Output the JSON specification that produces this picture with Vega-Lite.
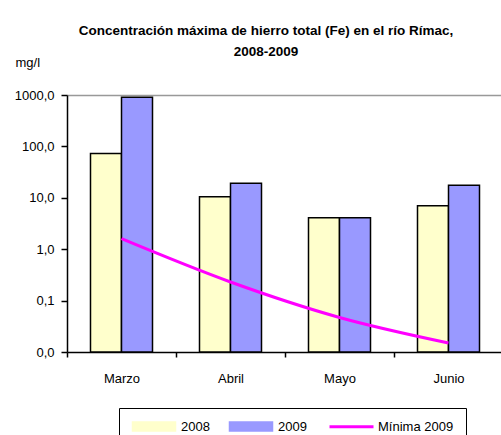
{
  "$schema": "https://vega.github.io/schema/vega-lite/v6.json",
  "width": 436,
  "height": 257,
  "autosize": {"type": "none"},
  "padding": {"left": 67, "top": 95, "right": 0, "bottom": 83},
  "background": "white",
  "config": {
    "font": "Liberation Sans",
    "view": {"stroke": null}
  },
  "title": {
    "text": ["Concentración máxima de hierro total (Fe) en el río Rímac,", "2008-2009"],
    "fontSize": 13.5,
    "fontWeight": "bold",
    "color": "black",
    "anchor": "middle",
    "frame": "group",
    "dx": -19,
    "offset": -2,
    "lineHeight": 21
  },
  "datasets": {
    "barras": [
      {"mes": "Marzo", "serie": "2008", "valor": 73},
      {"mes": "Marzo", "serie": "2009", "valor": 900},
      {"mes": "Abril", "serie": "2008", "valor": 10.5},
      {"mes": "Abril", "serie": "2009", "valor": 19.2},
      {"mes": "Mayo", "serie": "2008", "valor": 4.1},
      {"mes": "Mayo", "serie": "2009", "valor": 4.1},
      {"mes": "Junio", "serie": "2008", "valor": 7.0},
      {"mes": "Junio", "serie": "2009", "valor": 17.5}
    ],
    "minima": [
      {"mes": "Marzo", "serie": "Mínima 2009", "valor": 1.6},
      {"mes": "Abril", "serie": "Mínima 2009", "valor": 0.23},
      {"mes": "Mayo", "serie": "Mínima 2009", "valor": 0.047},
      {"mes": "Junio", "serie": "Mínima 2009", "valor": 0.015}
    ]
  },
  "encoding": {
    "x": {
      "field": "mes",
      "type": "nominal",
      "sort": ["Marzo", "Abril", "Mayo", "Junio"],
      "scale": {"paddingInner": 0, "paddingOuter": 0},
      "axis": {
        "title": null,
        "labelAngle": 0,
        "labelFontSize": 13,
        "labelColor": "black",
        "labelPadding": 15,
        "tickBand": "extent",
        "tickSize": 5,
        "tickColor": "black",
        "tickWidth": 1.5,
        "domainColor": "black",
        "domainWidth": 1.5,
        "grid": false
      }
    },
    "y": {
      "field": "valor",
      "type": "quantitative",
      "scale": {"type": "log", "domain": [0.01, 1000], "nice": false},
      "axis": {
        "values": [0.01, 0.1, 1, 10, 100, 1000],
        "labelExpr": "replace(format(datum.value, '.1f'), '.', ',')",
        "labelFontSize": 13,
        "labelColor": "black",
        "labelPadding": 7,
        "tickSize": 6,
        "tickColor": "black",
        "tickWidth": 1.5,
        "domainColor": "black",
        "domainWidth": 1.5,
        "grid": true,
        "gridColor": "#999999",
        "gridWidth": 1.5,
        "gridOpacity": {"condition": {"test": "datum.value === 1000", "value": 1}, "value": 0},
        "title": "mg/l",
        "titleAngle": 0,
        "titleX": -52,
        "titleY": -33,
        "titleAlign": "left",
        "titleBaseline": "middle",
        "titleFontWeight": "normal",
        "titleFontSize": 13,
        "titleColor": "black"
      }
    },
    "color": {
      "field": "serie",
      "type": "nominal",
      "scale": {
        "domain": ["2008", "2009", "Mínima 2009"],
        "range": ["#FFFFCC", "#9999FF", "#FF00FF"]
      },
      "legend": {
        "title": null,
        "orient": "none",
        "direction": "horizontal",
        "legendX": 52,
        "legendY": 313,
        "padding": 12,
        "strokeColor": "black",
        "fillColor": "white",
        "labelFontSize": 13,
        "labelColor": "black",
        "labelOffset": 37,
        "columnPadding": 16,
        "symbolSize": 100,
        "symbolStrokeColor": "black",
        "symbolStrokeWidth": 1.5,
        "encode": {
          "symbols": {
            "update": {
              "shape": {"signal": "datum.label === 'Mínima 2009' ? 'M-1,0H7.8' : 'M-1,-0.9H7.6V0.9H-1Z'"},
              "fill": {"signal": "datum.label === 'Mínima 2009' ? 'transparent' : (datum.label === '2008' ? '#FFFFCC' : '#9999FF')"},
              "stroke": {"signal": "datum.label === 'Mínima 2009' ? '#FF00FF' : '#000000'"},
              "strokeWidth": {"signal": "datum.label === 'Mínima 2009' ? 3 : 1.5"},
              "strokeOpacity": {"value": 1},
              "opacity": {"value": 1}
            }
          }
        }
      }
    }
  },
  "layer": [
    {
      "data": {"name": "barras"},
      "mark": {"type": "bar", "stroke": "black", "strokeWidth": 1.5, "opacity": 1},
      "encoding": {
        "xOffset": {
          "field": "serie",
          "type": "nominal",
          "scale": {"paddingInner": 0, "paddingOuter": 0.758}
        },
        "y2": {"datum": 0.01}
      }
    },
    {
      "data": {"name": "minima"},
      "mark": {"type": "line", "strokeWidth": 3, "interpolate": "monotone"}
    }
  ]
}
